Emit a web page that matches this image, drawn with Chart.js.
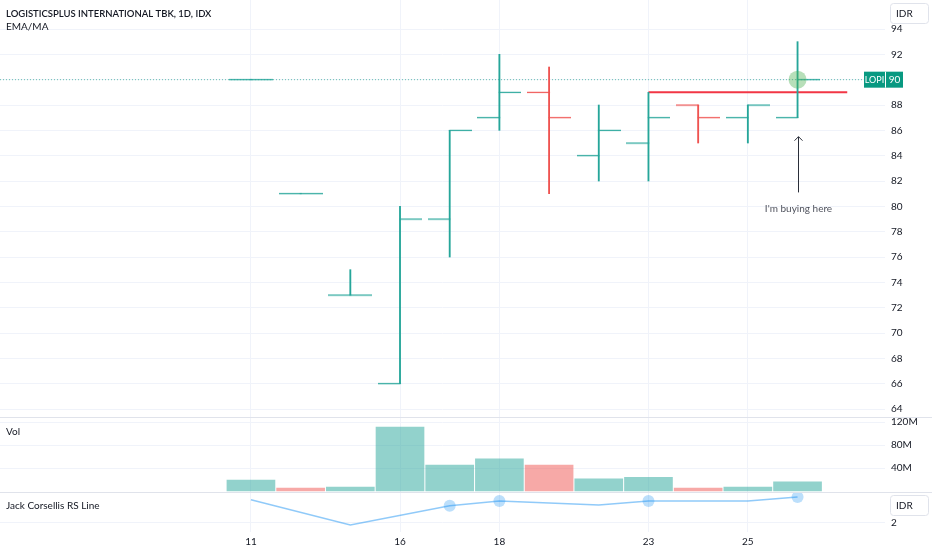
<!DOCTYPE html>
<html>
<head>
<meta charset="utf-8">
<script src="https://cdn.jsdelivr.net/npm/chart.js@4.4.1/dist/chart.umd.min.js"></script>
<style>
  body { margin: 0; background: #fff; width: 932px; height: 550px; overflow: hidden; position: relative; }
  canvas { position: absolute; left: 0; }
</style>
</head>
<body>
<canvas id="price" width="932" height="417" style="top:0"></canvas>
<canvas id="vol" width="932" height="75" style="top:417px"></canvas>
<canvas id="rs" width="932" height="58" style="top:492px"></canvas>
<script>
// daily bars, LOPI (IDX)
const days    = ["11", "12", "15", "16", "17", "18", "19", "22", "23", "24", "25", "26"];
const opens   = [90, 81, 73, 66, 79, 87, 89, 84, 85, 88, 87, 87];
const highs   = [90, 81, 75, 80, 86, 92, 91, 88, 89, 88, 88, 93];
const lows    = [90, 81, 73, 66, 76, 86, 81, 82, 82, 85, 85, 87];
const closes  = [90, 81, 73, 79, 86, 89, 87, 86, 87, 87, 88, 90];
const volumes = [19, 5, 7, 111, 45, 56, 45, 21, 24, 5, 7, 16]; // millions
const volDown = [false, true, false, false, false, false, true, false, false, true, false, false];
const rsLine  = [2.58, null, 1.95, null, 2.43, 2.55, null, 2.45, 2.55, null, 2.55, 2.65];
const rsDots  = [4, 5, 8, 11];

const dayTicks   = [0, 3, 5, 8, 10];
const priceTicks = [64, 66, 68, 70, 72, 74, 76, 78, 80, 82, 84, 86, 88, 90, 92, 94];
const volTicks   = [40, 80, 120];
const rsTicks    = [2];

// drawn level + note
const resistance = { from: 8, to: 12, level: 89 };
const buyNote = { index: 11, tail: 81.1, head: 85.5, text: "I'm buying here" };

const XMIN = -5.05, XMAX = 12.76;
const GREEN = '#26a69a', RED = '#ef5350';
const FONT = "Lato, 'Noto Sans', sans-serif";
const GRID = '#f0f3fa', TEXT = '#131722';

function tickImg(color, side) {
  const c = document.createElement('canvas');
  c.width = 44; c.height = 3;
  const g = c.getContext('2d');
  g.strokeStyle = color; g.lineWidth = 1.2;
  g.beginPath();
  g.moveTo(side < 0 ? 0 : 21.5, 1.5);
  g.lineTo(side < 0 ? 22.5 : 44, 1.5);
  g.stroke();
  return c;
}
const openG = tickImg(GREEN, -1), openR = tickImg(RED, -1);
const closeG = tickImg(GREEN, 1), closeR = tickImg(RED, 1);
const up = closes.map((c, i) => c >= opens[i]);

function xAxis(labels) {
  return {
    type: 'linear', min: XMIN, max: XMAX, offset: false,
    afterBuildTicks: s => { s.ticks = dayTicks.map(v => ({ value: v })); },
    grid: { color: GRID, drawTicks: false, offset: false },
    border: { display: false },
    ticks: { display: labels, padding: 4, color: TEXT, font: { family: FONT, size: 10 }, maxRotation: 0,
             callback: v => days[v] },
    afterFit: s => { s.height = labels ? 18 : 0; s.paddingLeft = 0; s.paddingRight = 0; }
  };
}
function yAxis(min, max, ticks, fmt) {
  return {
    position: 'right', min: min, max: max,
    afterBuildTicks: s => { s.ticks = ticks.map(v => ({ value: v })); },
    grid: { color: GRID, drawTicks: false },
    border: { display: false },
    ticks: { padding: 6, color: TEXT, font: { family: FONT, size: 10 }, callback: fmt || (v => v) },
    afterFit: s => { s.width = 47; s.paddingTop = 0; s.paddingBottom = 0; }
  };
}
const base = {
  responsive: false, animation: false,
  layout: { padding: 0, autoPadding: false },
  plugins: { legend: { display: false }, tooltip: { enabled: false } }
};

function idrBox(ctx, y) {
  ctx.save();
  ctx.fillStyle = '#fff';
  ctx.strokeStyle = '#e0e3eb';
  ctx.lineWidth = 1;
  ctx.beginPath();
  ctx.roundRect(890.5, y + 0.5, 38, 20, 3);
  ctx.fill(); ctx.stroke();
  ctx.fillStyle = TEXT;
  ctx.font = '10px ' + FONT;
  ctx.textBaseline = 'middle';
  ctx.fillText('IDR', 896, y + 11);
  ctx.restore();
}

// price pane
const last = closes[closes.length - 1];
new Chart(document.getElementById('price'), {
  type: 'bar',
  data: {
    datasets: [
      { type: 'scatter', order: 1, data: [{ x: buyNote.index, y: closes[buyNote.index] }],
        pointRadius: 9, pointBackgroundColor: 'rgba(76,175,80,0.4)', pointBorderWidth: 0 },
      { type: 'scatter', order: 2, data: opens.map((o, i) => ({ x: i, y: o })),
        pointStyle: up.map(u => u ? openG : openR), pointRadius: 5 },
      { type: 'scatter', order: 3, data: closes.map((c, i) => ({ x: i, y: c })),
        pointStyle: up.map(u => u ? closeG : closeR), pointRadius: 5 },
      { type: 'bar', order: 4, data: highs.map((h, i) => ({ x: i, y: [lows[i], h] })),
        backgroundColor: up.map(u => u ? GREEN : RED), barThickness: 1.2, borderWidth: 0 },
      { type: 'line', order: 5, data: [{ x: resistance.from, y: resistance.level }, { x: resistance.to, y: resistance.level }],
        borderColor: '#f23645', borderWidth: 2, pointRadius: 0 },
      { type: 'line', order: 6, data: [{ x: XMIN, y: last }, { x: XMAX, y: last }],
        borderColor: 'rgba(8,153,129,0.6)', borderWidth: 1, borderDash: [1, 2], pointRadius: 0 }
    ]
  },
  options: Object.assign({}, base, {
    scales: { x: xAxis(false), y: yAxis(63.37, 96.29, priceTicks) }
  }),
  plugins: [{
    id: 'priceOverlay',
    afterDraw(chart) {
      const ctx = chart.ctx, xs = chart.scales.x, ys = chart.scales.y;
      ctx.save();
      ctx.fillStyle = TEXT;
      ctx.textBaseline = 'middle';
      ctx.font = '600 9.5px ' + FONT;
      ctx.fillText('LOGISTICSPLUS INTERNATIONAL TBK, 1D, IDX', 6, 14);
      ctx.font = '10px ' + FONT;
      ctx.fillText('EMA/MA', 6, 27);
      // note arrow
      const ax = Math.round(xs.getPixelForValue(buyNote.index)) + 0.5;
      const yt = ys.getPixelForValue(buyNote.tail), yh = ys.getPixelForValue(buyNote.head);
      ctx.strokeStyle = '#2a2e39'; ctx.lineWidth = 1;
      ctx.beginPath();
      ctx.moveTo(ax, yt); ctx.lineTo(ax, yh);
      ctx.moveTo(ax - 4, yh + 4); ctx.lineTo(ax, yh); ctx.lineTo(ax + 4, yh + 4);
      ctx.stroke();
      ctx.fillStyle = '#50535e';
      ctx.textAlign = 'center';
      ctx.fillText(buyNote.text, ax, yt + 16);
      // last price badge
      const py = ys.getPixelForValue(last);
      ctx.fillStyle = '#089981';
      ctx.fillRect(864, py - 8, 39, 16);
      ctx.strokeStyle = '#fff';
      ctx.beginPath(); ctx.moveTo(885.5, py - 8); ctx.lineTo(885.5, py + 8); ctx.stroke();
      ctx.fillStyle = '#fff';
      ctx.textAlign = 'center';
      ctx.font = '9px ' + FONT;
      ctx.fillText('LOPI', 874.5, py + 0.5);
      ctx.font = '10px ' + FONT;
      ctx.fillText(String(last), 894.5, py + 0.5);
      ctx.restore();
      idrBox(ctx, 3);
    }
  }]
});

// volume pane
new Chart(document.getElementById('vol'), {
  type: 'bar',
  data: {
    datasets: [{
      data: volumes.map((v, i) => ({ x: i, y: v })),
      backgroundColor: volDown.map(d => d ? 'rgba(239,83,80,0.5)' : 'rgba(38,166,154,0.5)'),
      barThickness: 48, borderWidth: 0
    }]
  },
  options: Object.assign({}, base, {
    scales: { x: xAxis(false), y: yAxis(-1.7, 128.7, volTicks, v => v + 'M') }
  }),
  plugins: [{
    id: 'volOverlay',
    afterDraw(chart) {
      const ctx = chart.ctx;
      ctx.save();
      ctx.strokeStyle = '#e0e3eb'; ctx.lineWidth = 1;
      ctx.beginPath(); ctx.moveTo(0, 0.5); ctx.lineTo(932, 0.5); ctx.stroke();
      ctx.fillStyle = TEXT; ctx.font = '10px ' + FONT; ctx.textBaseline = 'middle';
      ctx.fillText('Vol', 6, 15);
      ctx.restore();
    }
  }]
});

// RS line pane
new Chart(document.getElementById('rs'), {
  type: 'line',
  data: {
    datasets: [{
      data: rsLine.map((v, i) => ({ x: i, y: v })),
      spanGaps: true,
      borderColor: 'rgba(33,150,243,0.5)', borderWidth: 1.5,
      pointRadius: rsLine.map((v, i) => rsDots.includes(i) ? 6 : 0),
      pointBackgroundColor: 'rgba(33,150,243,0.3)', pointBorderWidth: 0
    }]
  },
  options: Object.assign({}, base, {
    scales: { x: xAxis(true), y: yAxis(1.775, 2.775, rsTicks) }
  }),
  plugins: [{
    id: 'rsOverlay',
    afterDraw(chart) {
      const ctx = chart.ctx;
      ctx.save();
      ctx.strokeStyle = '#e0e3eb'; ctx.lineWidth = 1;
      ctx.beginPath(); ctx.moveTo(0, 0.5); ctx.lineTo(932, 0.5); ctx.stroke();
      ctx.fillStyle = TEXT; ctx.font = '10px ' + FONT; ctx.textBaseline = 'middle';
      ctx.fillText('Jack Corsellis RS Line', 6, 14);
      ctx.restore();
      idrBox(ctx, 3);
    }
  }]
});
</script>
</body>
</html>
